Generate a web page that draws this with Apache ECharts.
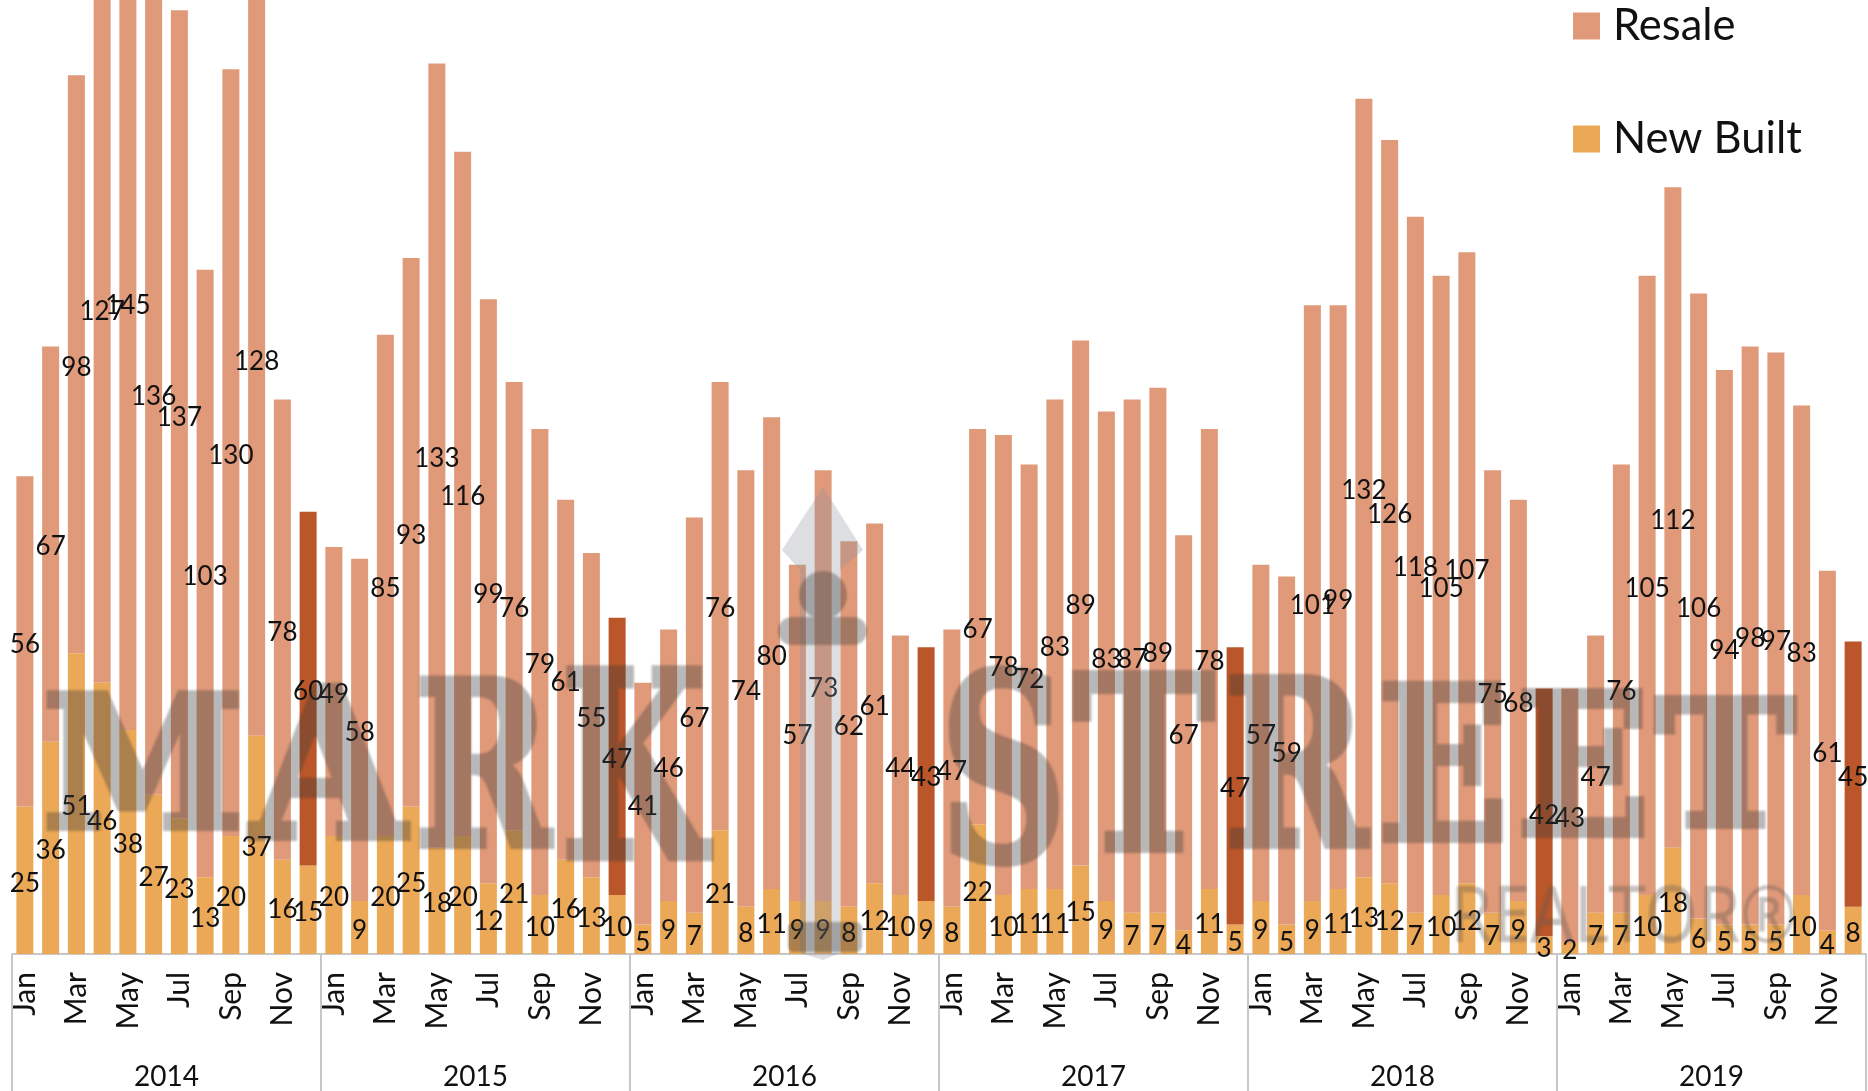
<!DOCTYPE html>
<html><head><meta charset="utf-8">
<style>html,body{margin:0;padding:0;background:#fff}#c{width:1868px;height:1091px}</style>
<script src="https://cdn.jsdelivr.net/npm/echarts@6/dist/echarts.min.js"></script>
</head><body><div id="c"></div>
<script>
const months = ['Jan','Feb','Mar','Apr','May','Jun','Jul','Aug','Sep','Oct','Nov','Dec'];
const years = ['2014','2015','2016','2017','2018','2019'];
const newBuilt = [
  25,36,51,46,38,27,23,13,20,37,16,15,
  20,9,20,25,18,20,12,21,10,16,13,10,
  5,9,7,21,8,11,9,9,8,12,10,9,
  8,22,10,11,11,15,9,7,7,4,11,5,
  9,5,9,11,13,12,7,10,12,7,9,3,
  2,7,7,10,18,6,5,5,5,10,4,8];
const resale = [
  56,67,98,127,145,136,137,103,130,128,78,60,
  49,58,85,93,133,116,99,76,79,61,55,47,
  41,46,67,76,74,80,57,73,62,61,44,43,
  47,67,78,72,83,89,83,87,89,67,78,47,
  57,59,101,99,132,126,118,105,107,75,68,42,
  43,47,76,105,112,106,94,98,97,83,61,45];

const C_RESALE='#E09A7A', C_NEW='#EBA857', C_DEC='#BA5629', C_AXIS='#C8C8C8', C_TEXT='#111111';
const FONT='Lato';
const categories = years.flatMap(y => months.map(m => m));

// Watermark letters: char, left, right, top, bottom
const wmLetters = [
  ['M',46,239,690,830],['A',246,411,682,840],['R',418,556,675,848],['K',565,716,664,860],
  ['S',947,1062,667,862],['T',1071,1217,669,852],['R',1228,1372,673,848],
  ['E',1381,1504,680,842],['E',1521,1645,687,837],['T',1653,1797,695,828]
];
const WM_LAYER=5, WM_OPACITY=0.36, WM_COLOR='#3a3a3a', WM_STROKE=8, CAP=0.729, WF='"DejaVu Serif"';
const mctx=document.createElement('canvas').getContext('2d');
const wmGraphics = wmLetters.map(([ch,l,r,t,b])=>{
  const size=(b-t-WM_STROKE)/CAP;
  const font='bold '+size+'px '+WF;
  mctx.font=font;
  const m=mctx.measureText(ch);
  const inkW=m.actualBoundingBoxLeft+m.actualBoundingBoxRight;
  const sx=(r-l-WM_STROKE)/inkW;
  const inkOff=(m.actualBoundingBoxRight-m.actualBoundingBoxLeft)/2*sx;
  return {type:'text',zlevel:WM_LAYER,x:(l+r)/2-inkOff,y:(t+b)/2+0.11*size,scaleX:sx,silent:true,
    style:{text:ch,font:font,fill:WM_COLOR,stroke:WM_COLOR,lineWidth:WM_STROKE,lineJoin:'round',align:'left',verticalAlign:'middle'}};
});
const iconGraphics = [
  {type:'polygon',z:100,silent:true,shape:{points:[[823,487],[863,550],[840,570],[840,953],[823,960],[800,953],[800,570],[782,550]]},style:{fill:'rgba(140,145,155,0.30)'}},
  {type:'circle',zlevel:WM_LAYER,silent:true,shape:{cx:823,cy:595,r:24},style:{fill:WM_COLOR}},
  {type:'rect',zlevel:WM_LAYER,silent:true,shape:{x:778,y:617,width:89,height:28,r:14},style:{fill:WM_COLOR}},
  {type:'rect',zlevel:WM_LAYER,silent:true,shape:{x:788,y:922,width:74,height:30,r:6},style:{fill:WM_COLOR}}
];
mctx.font='78px "Noto Sans"';
const realtorW=mctx.measureText('REALTOR®').width;
const realtorGraphic={type:'text',zlevel:WM_LAYER,silent:true,x:1450,y:920,scaleX:347/realtorW,
  style:{text:'REALTOR®',font:'78px "Noto Sans"',fill:'#5f5a55',align:'left',verticalAlign:'middle'}};

const labelStyle={show:true,position:'inside',offset:[0,3],fontFamily:FONT,fontSize:26,color:C_TEXT};
const chart=echarts.init(document.getElementById('c'),null,{renderer:'canvas'});
chart.setOption({
  animation:false,
  backgroundColor:'#fff',
  grid:{left:12,top:0,width:1854,height:955,containLabel:false},
  legend:{show:true,orient:'vertical',left:1573,top:4,padding:0,itemWidth:27,itemHeight:27,itemGap:69,
    icon:'rect',data:['Resale','New Built'],textStyle:{fontFamily:FONT,fontSize:43.5,lineHeight:27,color:C_TEXT,padding:[0,0,0,8]}},
  xAxis:[
    {type:'category',data:categories,position:'bottom',
     axisLine:{show:false},axisTick:{show:false},
     axisLabel:{interval:1,rotate:90,margin:18,fontFamily:FONT,fontSize:30,color:C_TEXT}},
    {type:'category',data:years,position:'bottom',
     axisLine:{show:true,lineStyle:{color:C_AXIS,width:2}},
     axisTick:{show:true,length:138,alignWithLabel:false,lineStyle:{color:C_AXIS,width:2}},
     axisLabel:{margin:109,fontFamily:FONT,fontSize:28,color:C_TEXT}}
  ],
  yAxis:{type:'value',min:0,max:161.75,show:false,splitLine:{show:false}},
  series:[
    {name:'New Built',type:'bar',stack:'t',clip:false,xAxisIndex:0,barWidth:17,itemStyle:{color:C_NEW},
     label:labelStyle,data:newBuilt},
    {name:'Resale',type:'bar',stack:'t',clip:false,xAxisIndex:0,barWidth:17,itemStyle:{color:C_RESALE},
     label:labelStyle,
     data:resale.map((v,i)=>i%12===11?{value:v,itemStyle:{color:C_DEC}}:v)}
  ],
  graphic:{elements:wmGraphics.concat(iconGraphics,[realtorGraphic])}
});
// The watermark sits on its own canvas layer so that fill and outline blend as one translucent shape.
const wmLayer=chart.getZr().painter.getLayer(WM_LAYER);
wmLayer.dom.style.opacity=WM_OPACITY;
wmLayer.dom.style.filter='blur(0.8px)';
</script></body></html>
